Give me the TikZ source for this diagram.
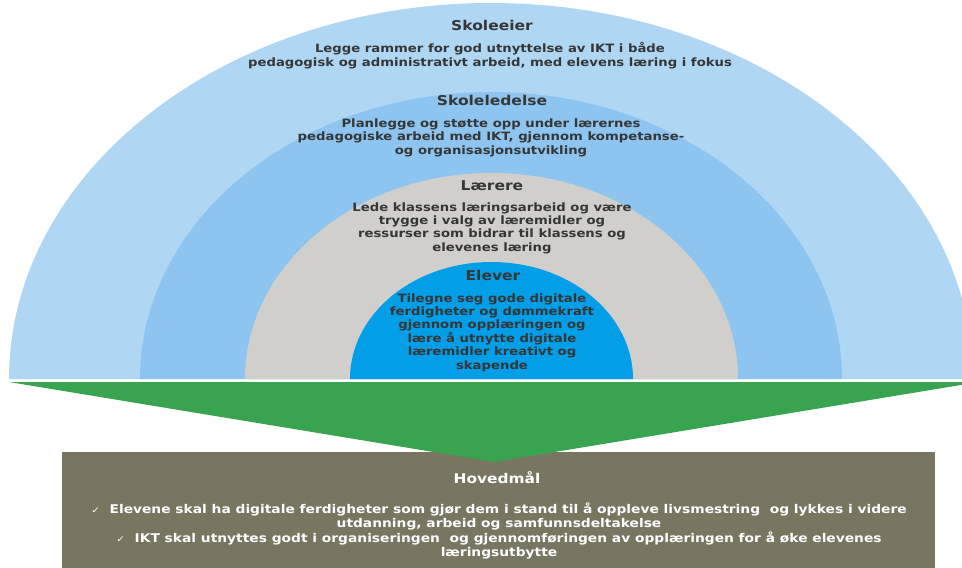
\documentclass[tikz,border=0pt]{standalone}
\usepackage{fontspec}
\setmainfont{DejaVu Sans}[FakeStretch=1.15]
\definecolor{cOuter}{HTML}{AFD7F3}
\definecolor{cMid}{HTML}{8DC5F0}
\definecolor{cGray}{HTML}{D0CFCB}
\definecolor{cInner}{HTML}{029EE7}
\definecolor{cGreen}{HTML}{38A450}
\definecolor{cBox}{HTML}{787661}
\definecolor{txtc}{HTML}{363636}
\begin{document}
\begin{tikzpicture}[x=1pt,y=-1pt,
  hd/.style={font=\bfseries\fontsize{13.5}{16}\selectfont, text=txtc, inner sep=0pt},
  bd/.style={font=\bfseries\fontsize{11.5}{13.4}\selectfont, text=txtc, align=center, inner sep=0pt},
  wbd/.style={bd, text=white, font=\bfseries\fontsize{12}{14.6}\selectfont},
  whd/.style={hd, text=white, font=\bfseries\fontsize{13.4}{16}\selectfont},
]
\useasboundingbox (0,0) rectangle (962,568);
\clip (0,0) rectangle (962,568);
\fill[cOuter] (9,379) arc[start angle=180,end angle=360,x radius=482,y radius=376] -- cycle;
\fill[cMid] (140,379) arc[start angle=180,end angle=360,x radius=351,y radius=287] -- cycle;
\fill[cGray] (245,379) arc[start angle=180,end angle=360,x radius=246.5,y radius=206] -- cycle;
\fill[cInner] (350,379) arc[start angle=180,end angle=360,x radius=141.5,y radius=117] -- cycle;
\fill[cBox] (62,452) rectangle (935,575);
\fill[cGreen] (9,382) -- (979,382) -- (494,462) -- cycle;

\node[hd] (t1) at (492,25) {Skoleeier};
\node[bd] (b1) at (490,55.5) {Legge rammer for god utnyttelse av IKT i både\\pedagogisk og administrativt arbeid, med elevens læring i fokus};
\node[hd] (t2) at (492,100) {Skoleledelse};
\node[bd] (b2) at (491,137.5) {Planlegge og støtte opp under lærernes\\pedagogiske arbeid med IKT, gjennom kompetanse-\\og organisasjonsutvikling};
\node[hd] (t3) at (492,186) {Lærere};
\node[bd] (b3) at (492,228) {Lede klassens læringsarbeid og være\\trygge i valg av læremidler og\\ressurser som bidrar til klassens og\\elevenes læring};
\node[hd] (t4) at (493,275) {Elever};
\node[bd] (b4) at (492,332.5) {Tilegne seg gode digitale\\ferdigheter og dømmekraft\\gjennom opplæringen og\\lære å utnytte digitale\\læremidler kreativt og\\skapende};
\node[whd] (t5) at (497,478) {Hovedmål};
\node[wbd] (b5) at (499,531) {{\mdseries\fontsize{9}{11}\selectfont ✓}\ \ Elevene skal ha digitale ferdigheter som gjør dem i stand til å oppleve livsmestring\ \ og lykkes i videre\\utdanning, arbeid og samfunnsdeltakelse\\{\mdseries\fontsize{9}{11}\selectfont ✓}\ \ IKT skal utnyttes godt i organiseringen\ \ og gjennomføringen av opplæringen for å øke elevenes\\læringsutbytte};
\end{tikzpicture}
\end{document}
